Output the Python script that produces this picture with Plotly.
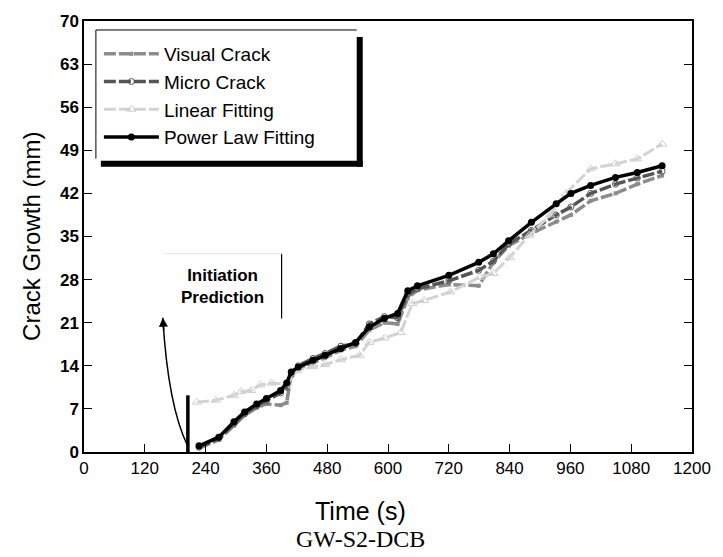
import plotly.graph_objects as go

# ---------------- data ----------------
pl_t = [227, 266, 296, 317, 341, 360, 388, 400, 409, 423, 452, 476, 507, 536, 563, 593, 619,
        639, 658, 720, 779, 808, 838, 883, 932, 961, 1000, 1049, 1092, 1141]
pl_y = [1.0, 2.4, 4.9, 6.5, 7.8, 8.7, 10.0, 11.2, 13.0, 13.8, 14.9, 15.7, 16.8, 17.8, 20.3, 21.7, 22.5,
        26.2, 27.0, 28.7, 30.8, 32.2, 34.3, 37.3, 40.3, 42.0, 43.3, 44.6, 45.4, 46.5]

vis_t = [227, 266, 296, 317, 341, 360, 388, 400, 409, 423, 452, 476, 507, 536, 563, 593, 619,
         639, 658, 720, 779, 808, 838, 883, 932, 961, 1000, 1049, 1092, 1141]
vis_y = [0.6, 2.0, 4.3, 6.0, 7.2, 7.8, 7.6, 8.0, 12.6, 13.5, 14.5, 15.3, 16.5, 17.2, 19.8, 21.0, 20.8,
         25.0, 26.3, 27.2, 27.0, 30.8, 33.5, 35.5, 37.4, 38.5, 40.8, 42.0, 43.5, 44.9]

mic_t = vis_t
mic_y = [0.8, 2.2, 4.6, 6.2, 7.5, 8.3, 9.6, 10.5, 12.5, 14.0, 15.2, 16.0, 17.2, 17.6, 20.8, 22.0, 21.8,
         25.6, 26.5, 27.8, 29.5, 31.0, 33.8, 36.0, 38.5, 39.8, 42.0, 43.5, 44.5, 45.6]

lin_t = [223, 260, 296, 310, 330, 348, 370, 400, 420, 452, 476, 507, 544, 563, 593, 625, 648,
         671, 723, 781, 808, 840, 879, 920, 951, 1000, 1049, 1092, 1141]
lin_y = [8.1, 8.4, 9.2, 9.8, 10.0, 10.9, 11.2, 11.0, 13.2, 13.9, 14.2, 15.0, 15.7, 17.8, 18.5, 19.4, 24.1,
         24.6, 26.0, 28.4, 29.0, 31.6, 35.2, 38.5, 42.0, 46.0, 46.8, 47.6, 50.0]

x_ticks = [0, 120, 240, 360, 480, 600, 720, 840, 960, 1080, 1200]
y_ticks = [0, 7, 14, 21, 28, 35, 42, 49, 56, 63, 70]

init_t = 205       # initiation prediction time
init_h = 9.2       # height of the initiation marker bar

FONT = "Arial, Liberation Sans, sans-serif"

fig = go.Figure()
fig.add_trace(go.Scatter(x=vis_t, y=vis_y, name="Visual Crack", mode="lines+markers",
                         line=dict(color="#8c8c8c", width=3.5, dash="12px,3px"),
                         marker=dict(symbol="square", size=4, color="#8c8c8c")))
fig.add_trace(go.Scatter(x=mic_t, y=mic_y, name="Micro Crack", mode="lines+markers",
                         line=dict(color="#555555", width=3.5, dash="12px,3px"),
                         marker=dict(symbol="circle-open", size=6, color="#555555",
                                     line=dict(width=1))))
fig.add_trace(go.Scatter(x=lin_t, y=lin_y, name="Linear Fitting", mode="lines+markers",
                         line=dict(color="#d3d3d3", width=3, dash="12px,3px"),
                         marker=dict(symbol="triangle-up-open", size=8, color="#cfcfcf",
                                     line=dict(width=1))))
fig.add_trace(go.Scatter(x=pl_t, y=pl_y, name="Power Law Fitting", mode="lines+markers",
                         line=dict(color="black", width=3.5),
                         marker=dict(symbol="circle", size=7, color="black")))

# initiation bar
fig.add_trace(go.Scatter(x=[init_t, init_t], y=[0, init_h], mode="lines",
                         line=dict(color="black", width=3.5), showlegend=False, hoverinfo="skip"))

shapes = []
# curved arrow
shapes.append(dict(type="path", xref="x", yref="y",
                   path="M 204,1.1 Q 166,7.5 155.5,21.8",
                   line=dict(color="black", width=1.5)))
# annotation box right edge and faint top line
shapes.append(dict(type="line", xref="x", yref="y", x0=390, x1=390, y0=21.7, y1=32.2,
                   line=dict(color="black", width=1.2)))
shapes.append(dict(type="line", xref="x", yref="y", x0=155, x1=390, y0=32.2, y1=32.2,
                   line=dict(color="#e6e6e6", width=1)))

# legend frame: thin top/left, thick right/bottom shadow
def px2x(p):
    return (p - 84) / 613.0

def px2y(p):
    return (452 - p) / 432.0

shapes.append(dict(type="line", xref="paper", yref="paper", x0=px2x(96), x1=px2x(359),
                   y0=px2y(29), y1=px2y(29), line=dict(color="black", width=1)))
shapes.append(dict(type="line", xref="paper", yref="paper", x0=px2x(96), x1=px2x(96),
                   y0=px2y(29), y1=px2y(158), line=dict(color="black", width=1)))
shapes.append(dict(type="line", xref="paper", yref="paper", x0=px2x(362), x1=px2x(362),
                   y0=px2y(36), y1=px2y(166), line=dict(color="black", width=6)))
shapes.append(dict(type="line", xref="paper", yref="paper", x0=px2x(101), x1=px2x(365),
                   y0=px2y(163), y1=px2y(163), line=dict(color="black", width=6)))

annotations = [
    dict(x=155.5, y=21.8, xref="x", yref="y", ax=1, ay=14, text="", showarrow=True,
         arrowhead=2, arrowsize=1.2, arrowwidth=1.5, arrowcolor="black"),
    dict(x=274, y=26.9, xref="x", yref="y", text="<b>Initiation<br>Prediction</b>",
         showarrow=False, font=dict(family=FONT, size=17, color="black"), align="center"),
    dict(x=px2x(363), y=px2y(511), xref="paper", yref="paper", text="Time (s)", showarrow=False,
         font=dict(family=FONT, size=25, color="black"), yanchor="middle"),
    dict(x=px2x(363), y=px2y(539), xref="paper", yref="paper", text="GW-S2-DCB", showarrow=False,
         font=dict(family="Liberation Serif, Times New Roman, serif", size=24, color="black"),
         yanchor="middle"),
    dict(x=px2x(31), y=px2y(236), xref="paper", yref="paper", text="Crack Growth (mm)",
         showarrow=False, textangle=-90, font=dict(family=FONT, size=24, color="black"),
         xanchor="center", yanchor="middle"),
]

fig.update_layout(
    width=723, height=557,
    margin=dict(l=84, r=26, t=20, b=105),
    paper_bgcolor="white", plot_bgcolor="white",
    font=dict(family=FONT, color="black"),
    shapes=shapes, annotations=annotations,
    showlegend=True,
    legend=dict(x=px2x(99), y=px2y(34), xanchor="left", yanchor="top",
                bgcolor="rgba(255,255,255,0)", borderwidth=0,
                font=dict(family=FONT, size=19, color="black"),
                traceorder="normal", itemwidth=55),
    xaxis=dict(range=[0, 1200], tickvals=x_ticks, ticktext=[str(v) for v in x_ticks],
               showgrid=False, zeroline=False, showline=True, linecolor="black", linewidth=1.5,
               mirror=True, ticks="inside", ticklen=8, tickcolor="black", tickwidth=1.2,
               tickfont=dict(family=FONT, size=17, color="black")),
    yaxis=dict(range=[0, 70], tickvals=y_ticks, ticktext=["<b>%d</b>" % v for v in y_ticks],
               showgrid=False, zeroline=False, showline=True, linecolor="black", linewidth=1.5,
               mirror="ticks", ticks="inside", ticklen=8, tickcolor="black", tickwidth=1.2,
               tickfont=dict(family=FONT, size=17, color="black")),
)

fig.write_html("out.html")
